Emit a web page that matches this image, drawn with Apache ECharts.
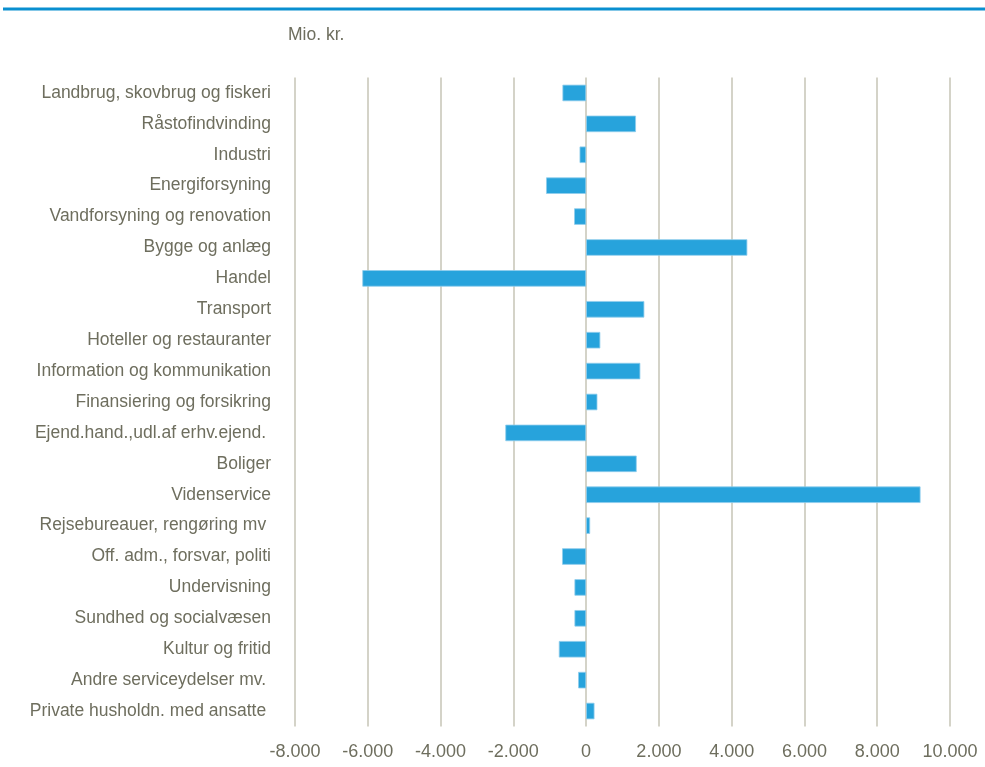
<!DOCTYPE html>
<html>
<head>
<meta charset="utf-8">
<script src="https://cdn.jsdelivr.net/npm/echarts@6/dist/echarts.min.js"></script>
<style>
html,body{margin:0;padding:0;background:#fff;}
#c{width:985px;height:767px;}
</style>
</head>
<body>
<div id="c"></div>
<script>
const categories = [
  "Landbrug, skovbrug og fiskeri",
  "Råstofindvinding",
  "Industri",
  "Energiforsyning",
  "Vandforsyning og renovation",
  "Bygge og anlæg",
  "Handel",
  "Transport",
  "Hoteller og restauranter",
  "Information og kommunikation",
  "Finansiering og forsikring",
  "Ejend.hand.,udl.af erhv.ejend. ",
  "Boliger",
  "Videnservice",
  "Rejsebureauer, rengøring mv ",
  "Off. adm., forsvar, politi",
  "Undervisning",
  "Sundhed og socialvæsen",
  "Kultur og fritid",
  "Andre serviceydelser mv. ",
  "Private husholdn. med ansatte "
];
const values = [
  -650, 1370, -180, -1100, -330, 4430, -6150, 1600, 390, 1490,
  310, -2220, 1390, 9190, 110, -660, -320, -320, -750, -220, 230
];
const unitLabel = "Mio. kr.";

const FONT = '"Liberation Sans", Arial, sans-serif';
const TXT = '#6e6e5e';

function fmt(v) {
  const s = Math.abs(v).toString().replace(/\B(?=(\d{3})+(?!\d))/g, '.');
  return (v < 0 ? '-' : '') + s;
}

const chart = echarts.init(document.getElementById('c'), null, {renderer: 'canvas'});
chart.setOption({
  animation: false,
  backgroundColor: '#ffffff',
  grid: {left: 295, right: 35, top: 77.5, bottom: 40.5, containLabel: false, outerBoundsMode: 'none'},
  graphic: [
    {type: 'rect', shape: {x: 3, y: 7.5, width: 982, height: 3}, style: {fill: '#0a8fd0'}},
    {type: 'text', left: 288, top: 26, style: {text: unitLabel, font: '17.5px ' + FONT, fill: TXT}}
  ],
  xAxis: {
    type: 'value',
    min: -8000, max: 10000, interval: 2000,
    axisLine: {show: false},
    axisTick: {show: false},
    splitLine: {show: true, lineStyle: {color: '#c6c4b6', width: 1.5}},
    axisLabel: {
      margin: 17,
      color: TXT,
      fontSize: 18,
      fontFamily: FONT,
      formatter: fmt
    }
  },
  yAxis: {
    type: 'category',
    data: categories,
    inverse: true,
    axisLine: {show: false},
    axisTick: {show: false},
    splitLine: {show: false},
    axisLabel: {
      margin: 24,
      color: TXT,
      fontSize: 17.5,
      fontFamily: FONT
    }
  },
  series: [{
    type: 'bar',
    data: values,
    barWidth: 16.5,
    itemStyle: {color: '#27a3dc', borderColor: '#8fcdec', borderWidth: 0.8}
  }]
});
</script>
</body>
</html>
